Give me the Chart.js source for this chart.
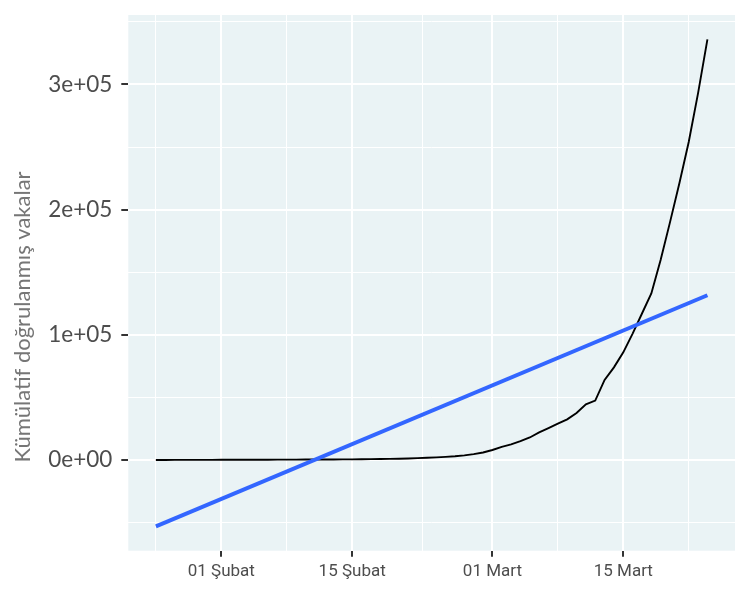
<!DOCTYPE html>
<html>
<head>
<meta charset="utf-8">
<script src="https://cdn.jsdelivr.net/npm/chart.js@4.4.1/dist/chart.umd.min.js"></script>
<style>
  html, body { margin: 0; padding: 0; background: #fff; }
  #wrap { width: 750px; height: 600px; }
</style>
</head>
<body>
<div id="wrap"><canvas id="chart"></canvas></div>
<script>
// daily cumulative confirmed cases
const dates = [
  "2020-01-25", "2020-01-26", "2020-01-27", "2020-01-28", "2020-01-29", "2020-01-30", "2020-01-31",
  "2020-02-01", "2020-02-02", "2020-02-03", "2020-02-04", "2020-02-05", "2020-02-06", "2020-02-07",
  "2020-02-08", "2020-02-09", "2020-02-10", "2020-02-11", "2020-02-12", "2020-02-13", "2020-02-14",
  "2020-02-15", "2020-02-16", "2020-02-17", "2020-02-18", "2020-02-19", "2020-02-20", "2020-02-21",
  "2020-02-22", "2020-02-23", "2020-02-24", "2020-02-25", "2020-02-26", "2020-02-27", "2020-02-28",
  "2020-02-29", "2020-03-01", "2020-03-02", "2020-03-03", "2020-03-04", "2020-03-05", "2020-03-06",
  "2020-03-07", "2020-03-08", "2020-03-09", "2020-03-10", "2020-03-11", "2020-03-12", "2020-03-13",
  "2020-03-14", "2020-03-15", "2020-03-16", "2020-03-17", "2020-03-18", "2020-03-19", "2020-03-20",
  "2020-03-21", "2020-03-22", "2020-03-23", "2020-03-24"
];
const cases = [
  40, 50, 60, 75, 85, 100, 125,
  140, 155, 165, 190, 220, 240, 290,
  300, 330, 360, 390, 400, 450, 500,
  530, 600, 700, 800, 900, 1000, 1200,
  1500, 1800, 2100, 2500, 3000, 3700, 4700,
  6000, 8000, 10500, 12500, 15000, 18000, 22000,
  25500, 29000, 32500, 37500, 44500, 47500, 64000,
  74000, 86000, 101000, 117000, 133000, 160000, 190000,
  221000, 254000, 293000, 336000
];

// straight fitted line (end points)
const trendDates = ["2020-01-25", "2020-03-24"];
const trendValues = [-53000, 131600];

const xTickDates = ["2020-02-01", "2020-02-15", "2020-03-01", "2020-03-15"];
const xTickLabels = ["01 Şubat", "15 Şubat", "01 Mart", "15 Mart"];
const xMinorDates = ["2020-01-25", "2020-02-08", "2020-02-22T12:00:00Z", "2020-03-08", "2020-03-22"];

const yTickValues = [0, 100000, 200000, 300000];
const yTickLabels = ["0e+00", "1e+05", "2e+05", "3e+05"];
const yMinorValues = [-50000, 50000, 150000, 250000, 350000];

const yTitle = "Kümülatif doğrulanmış vakalar";

function dayNum(s) {
  return (Date.parse(s) - Date.parse("2020-01-01")) / 86400000 + 1;
}

const xMajor = xTickDates.map(dayNum);
const xMinor = xMinorDates.map(dayNum);

const casePoints = dates.map((d, i) => ({ x: dayNum(d), y: cases[i] }));
const trendPoints = trendDates.map((d, i) => ({ x: dayNum(d), y: trendValues[i] }));

const panelBg = {
  id: "panelBg",
  beforeDraw(chart) {
    const { ctx, chartArea: a } = chart;
    ctx.save();
    ctx.fillStyle = "#EAF3F5";
    ctx.fillRect(a.left, a.top, a.right - a.left, a.bottom - a.top);
    ctx.restore();
  }
};

const yTitlePlugin = {
  id: "yTitlePlugin",
  afterDraw(chart) {
    const ctx = chart.ctx;
    ctx.save();
    ctx.translate(23, 317);
    ctx.rotate(-Math.PI / 2);
    ctx.textAlign = "center";
    ctx.textBaseline = "middle";
    ctx.font = "22px Lato";
    ctx.fillStyle = "#767676";
    ctx.fillText(yTitle, 0, 0);
    ctx.restore();
  }
};

const ctx = document.getElementById("chart").getContext("2d");
new Chart(ctx, {
  type: "line",
  data: {
    datasets: [
      {
        data: trendPoints,
        borderColor: "#3366FF",
        borderWidth: 4,
        pointRadius: 0,
        fill: false
      },
      {
        data: casePoints,
        borderColor: "#000000",
        borderWidth: 1.9,
        pointRadius: 0,
        tension: 0,
        fill: false
      }
    ]
  },
  options: {
    responsive: true,
    maintainAspectRatio: false,
    animation: false,
    layout: { padding: { left: 0, right: 15, top: 15, bottom: 0 } },
    plugins: {
      legend: { display: false },
      tooltip: { enabled: false }
    },
    scales: {
      x: {
        type: "linear",
        min: 22.05,
        max: 86.95,
        afterBuildTicks: (scale) => {
          scale.ticks = xMajor.concat(xMinor).sort((a, b) => a - b).map(v => ({ value: v }));
        },
        afterFit: (scale) => {
          scale.height = 49.3;
          scale.paddingLeft = 0;
          scale.paddingRight = 0;
        },
        border: { display: false },
        grid: {
          color: "#ffffff",
          lineWidth: (c) => (xMajor.includes(c.tick && c.tick.value) ? 2 : 1),
          tickColor: (c) => (xMajor.includes(c.tick && c.tick.value) ? "#333333" : "rgba(0,0,0,0)"),
          tickWidth: 2,
          tickLength: 6
        },
        ticks: {
          autoSkip: false,
          maxRotation: 0,
          padding: 5,
          color: "#4d4d4d",
          font: { family: "Roboto", size: 17 },
          callback: (v) => {
            const i = xMajor.indexOf(v);
            return i >= 0 ? xTickLabels[i] : "";
          }
        }
      },
      y: {
        type: "linear",
        min: -72450,
        max: 355450,
        afterBuildTicks: (scale) => {
          scale.ticks = yTickValues.concat(yMinorValues).sort((a, b) => a - b).map(v => ({ value: v }));
        },
        afterFit: (scale) => {
          scale.width = 128.3;
          scale.paddingTop = 0;
          scale.paddingBottom = 0;
        },
        border: { display: false },
        grid: {
          color: "#ffffff",
          lineWidth: (c) => (yTickValues.includes(c.tick && c.tick.value) ? 2 : 1),
          tickColor: (c) => (yTickValues.includes(c.tick && c.tick.value) ? "#333333" : "rgba(0,0,0,0)"),
          tickWidth: 2,
          tickLength: 7
        },
        ticks: {
          padding: 9,
          color: "#4d4d4d",
          font: { family: "Lato", size: 22.5 },
          callback: (v) => {
            const i = yTickValues.indexOf(v);
            return i >= 0 ? yTickLabels[i] : "";
          }
        }
      }
    }
  },
  plugins: [panelBg, yTitlePlugin]
});
</script>
</body>
</html>
